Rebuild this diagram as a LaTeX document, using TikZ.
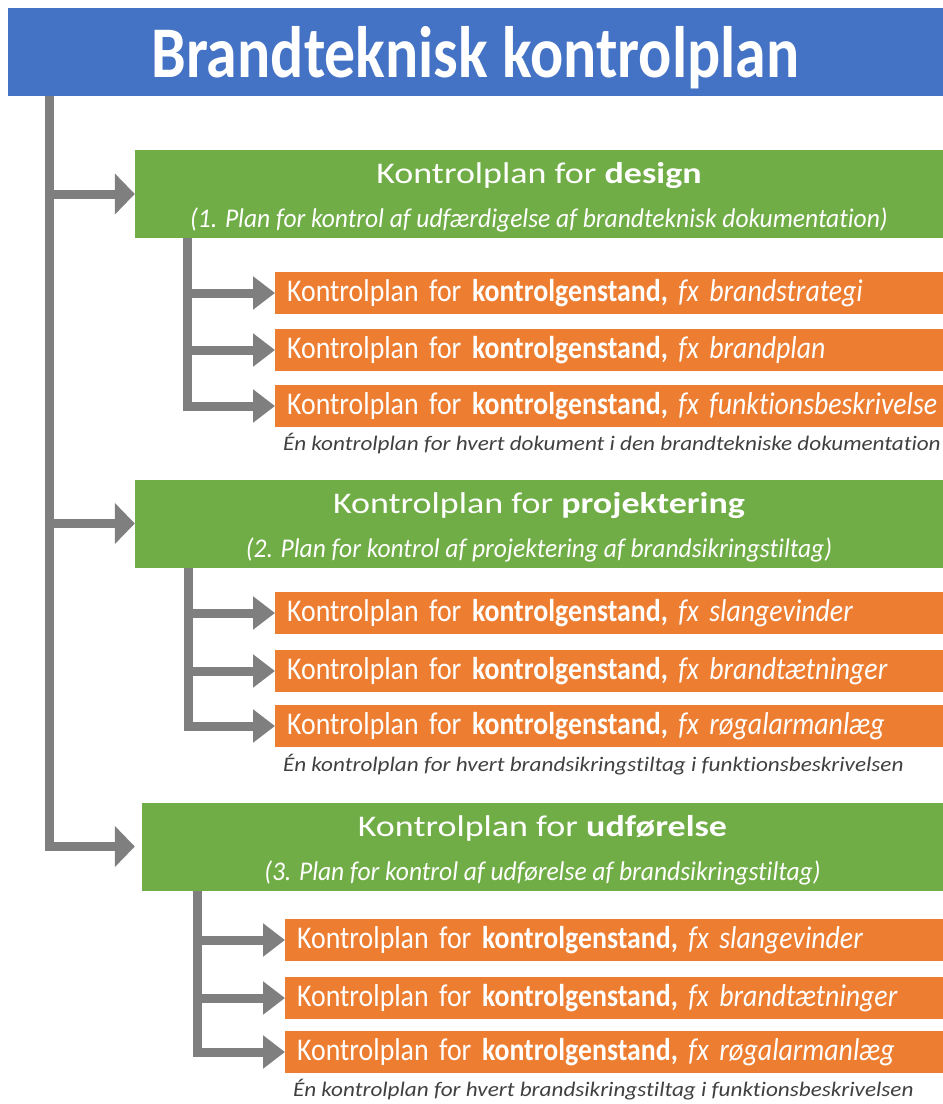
\documentclass[tikz,border=0pt]{standalone}
\usepackage{fontspec}
\setmainfont{Carlito}[Ligatures=NoCommon]
\newfontfamily\titlefont{Carlito}[Ligatures=NoCommon,FakeStretch=0.85]
\newfontfamily\headfont{Carlito}[Ligatures=NoCommon,FakeStretch=1.2]
\newfontfamily\subfont{Carlito}[Ligatures=NoCommon,FakeStretch=0.945]
\newfontfamily\itemfont{Carlito}[Ligatures=NoCommon,FakeStretch=0.88,WordSpace=0.85]
\newfontfamily\notefont{Carlito}[Ligatures=NoCommon,FakeStretch=1.12]
\usetikzlibrary{arrows.meta}
\definecolor{titleblue}{HTML}{4472C4}
\definecolor{plangreen}{HTML}{70AD47}
\definecolor{itemorange}{HTML}{ED7D31}
\definecolor{linegray}{HTML}{7F7F7F}
\definecolor{notegray}{HTML}{404040}
\hyphenpenalty=10000
\newcommand{\planhead}[1]{{\headfont\fontsize{30}{44}\selectfont\rule{0pt}{28.5pt}#1}}
\begin{document}
\begin{tikzpicture}[x=1pt,y=-1pt]
		\tikzstyle{titlebox}=[fill=titleblue,text=white,minimum width=935pt,minimum height=88pt,inner sep=0pt,text depth=0pt,font=\titlefont\fontsize{72.8}{72.8}\selectfont\bfseries]
		\tikzstyle{planbox}=[fill=plangreen,text=white,minimum height=88pt,inner sep=0pt,align=center,font=\subfont\fontsize{27}{44}\selectfont]
		\tikzstyle{itembox}=[fill=itemorange,text=white,anchor=west,minimum height=42pt,inner xsep=12pt,inner ysep=0pt,text width=660pt,align=left,font=\itemfont\fontsize{31.6}{36}\selectfont]
		\tikzstyle{note}=[anchor=west,inner sep=0pt,text=notegray,font=\notefont\fontsize{20.7}{24}\selectfont\itshape]
		\tikzstyle{mainarrow}=[draw=linegray,line width=9pt,-{Triangle[length=20pt,width=40pt]}]
		\tikzstyle{subarrow}=[draw=linegray,line width=9pt,-{Triangle[length=22pt,width=32pt]}]

		\useasboundingbox (0,0) rectangle (943,1104);

		\node[titlebox](title) at (475.5,52){Brandteknisk kontrolplan};

		% design
		\node[planbox,minimum width=808pt](g1) at (539,194){\planhead{Kontrolplan for \textbf{design}}\\\textit{(1. Plan for kontrol af udfærdigelse af brandteknisk dokumentation)}};
		\node[itembox](o11) at (275,293){Kontrolplan for \textbf{kontrolgenstand,} \textit{fx brandstrategi}};
		\node[itembox](o12) at (275,350){Kontrolplan for \textbf{kontrolgenstand,} \textit{fx brandplan}};
		\node[itembox](o13) at (275,406){Kontrolplan for \textbf{kontrolgenstand,} \textit{fx funktionsbeskrivelse}};
		\node[note](n1) at (283,444){Én kontrolplan for hvert dokument i den brandtekniske dokumentation};

		% projektering
		\node[planbox,minimum width=808pt](g2) at (539,523.5){\planhead{Kontrolplan for \textbf{projektering}}\\\textit{(2. Plan for kontrol af projektering af brandsikringstiltag)}};
		\node[itembox](o21) at (275,613){Kontrolplan for \textbf{kontrolgenstand,} \textit{fx slangevinder}};
		\node[itembox](o22) at (275,671){Kontrolplan for \textbf{kontrolgenstand,} \textit{fx brandtætninger}};
		\node[itembox](o23) at (275,726){Kontrolplan for \textbf{kontrolgenstand,} \textit{fx røgalarmanlæg}};
		\node[note](n2) at (283,765){Én kontrolplan for hvert brandsikringstiltag i funktionsbeskrivelsen};

		% udfoerelse
		\node[planbox,minimum width=801pt](g3) at (542.5,846.5){\planhead{Kontrolplan for \textbf{udførelse}}\\\textit{(3. Plan for kontrol af udførelse af brandsikringstiltag)}};
		\node[itembox](o31) at (285,940){Kontrolplan for \textbf{kontrolgenstand,} \textit{fx slangevinder}};
		\node[itembox](o32) at (285,998){Kontrolplan for \textbf{kontrolgenstand,} \textit{fx brandtætninger}};
		\node[itembox](o33) at (285,1052){Kontrolplan for \textbf{kontrolgenstand,} \textit{fx røgalarmanlæg}};
		\node[note](n3) at (293,1090){Én kontrolplan for hvert brandsikringstiltag i funktionsbeskrivelsen};

		\coordinate(t0) at (49.5,96);
		\coordinate(s1) at (187.5,238);
		\coordinate(s2) at (188.5,568);
		\coordinate(s3) at (197.5,891);

		\draw[mainarrow] (t0) |- ([xshift=-7pt]g3.west);
		\foreach \i in {1,2}
		{
		  \draw[mainarrow] (t0 |- g\i.west) -- (g\i.west);
		}

		\foreach \i in {1,...,3}
		  \foreach \j in {1,...,3}
		{
		  \draw[subarrow] (s\i) |- (o\i\j.west);
		}

\end{tikzpicture}
\end{document}
